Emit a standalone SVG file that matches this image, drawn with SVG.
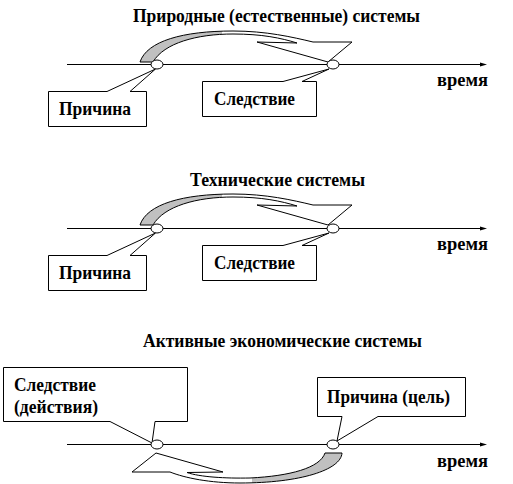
<svg xmlns="http://www.w3.org/2000/svg" xmlns:xlink="http://www.w3.org/1999/xlink" width="513" height="484" viewBox="0 0 513 484" xml:lang="ru" lang="ru">
<style>
.title{font-size:18px}
.lbl{font-size:19px}
.box{fill:#fff;stroke:#000;stroke-width:1}
.ax{fill:none;stroke:#000;stroke-width:1}
.dot{fill:#fff;stroke:#000;stroke-width:1}
.arW{fill:#fff;stroke:none}
.arG{fill:#c0c0c0;stroke:none}
.arS{fill:none;stroke:#000;stroke-width:1;stroke-linejoin:miter}
</style>
<defs>
<clipPath id="cl1"><rect x="0" y="0" width="222" height="484"/></clipPath>
<clipPath id="cl3"><rect x="252" y="0" width="261" height="484"/></clipPath>
<path id="arc1" d="M140,62 C147,41 183,31 233,31 C266,31 292,37 313,42 L352,42 L328,62 L257,42 L297,43 C281,38 262,34 233,34 C197,34 164,43 153,62 Z"/>
<path id="arc3" d="M342,453 C341,470 300,483 240,483 C210,483 185,478 170,472 L132,472 L156,453 L223,472 L187,472.5 C200,477 225,478.5 250,478 C290,476 320,468 325,453 Z"/>
<g id="curve1">
<use xlink:href="#arc1" class="arW"/>
<use xlink:href="#arc1" class="arG" clip-path="url(#cl1)"/>
<use xlink:href="#arc1" class="arS"/>
</g>
<path id="axisHead" d="M480,62.5 L487,64.5 L480,66.5 Z" fill="#000"/>
</defs>

<g id="titles">
<text class="title" font-family="Liberation Serif, Times New Roman, DejaVu Serif, serif" font-weight="bold" x="133" y="22" textLength="287" lengthAdjust="spacingAndGlyphs">Природные (естественные) системы</text>
<text class="title" font-family="Liberation Serif, Times New Roman, DejaVu Serif, serif" font-weight="bold" x="190" y="186" textLength="175" lengthAdjust="spacingAndGlyphs">Технические системы</text>
<text class="title" font-family="Liberation Serif, Times New Roman, DejaVu Serif, serif" font-weight="bold" x="143" y="347" textLength="279" lengthAdjust="spacingAndGlyphs">Активные экономические системы</text>
</g>

<g id="connectors">
<line class="ax" x1="67" y1="64.5" x2="483" y2="64.5"/>
<use xlink:href="#axisHead"/>
<line class="ax" x1="67" y1="228.5" x2="483" y2="228.5"/>
<use xlink:href="#axisHead" transform="translate(0,164)"/>
<line class="ax" x1="67" y1="444.5" x2="483" y2="444.5"/>
<use xlink:href="#axisHead" transform="translate(0,380)"/>
<use xlink:href="#curve1"/>
<use xlink:href="#curve1" transform="translate(0,163)"/>
<g id="curve3">
<use xlink:href="#arc3" class="arW"/>
<use xlink:href="#arc3" class="arG" clip-path="url(#cl3)"/>
<use xlink:href="#arc3" class="arS"/>
</g>
</g>

<g id="time-labels">
<text class="title" font-family="Liberation Serif, Times New Roman, DejaVu Serif, serif" font-weight="bold" x="437" y="86" textLength="51" lengthAdjust="spacingAndGlyphs">время</text>
<text class="title" font-family="Liberation Serif, Times New Roman, DejaVu Serif, serif" font-weight="bold" x="437" y="250" textLength="51" lengthAdjust="spacingAndGlyphs">время</text>
<text class="title" font-family="Liberation Serif, Times New Roman, DejaVu Serif, serif" font-weight="bold" x="437" y="467" textLength="51" lengthAdjust="spacingAndGlyphs">время</text>
</g>

<g id="p1-cause">
<path class="box" d="M48.5,91.5 L107,91.5 L155.5,69 L130,91.5 L146.5,91.5 L146.5,126.5 L48.5,126.5 Z"/>
<text class="lbl" font-family="Liberation Serif, Times New Roman, DejaVu Serif, serif" font-weight="bold" x="59" y="115" textLength="72" lengthAdjust="spacingAndGlyphs">Причина</text>
</g>
<g id="p1-effect">
<path class="box" d="M202.5,81.5 L283,81.5 L329,69 L302,81.5 L316.5,81.5 L316.5,116.5 L202.5,116.5 Z"/>
<text class="lbl" font-family="Liberation Serif, Times New Roman, DejaVu Serif, serif" font-weight="bold" x="214" y="104.5" textLength="81" lengthAdjust="spacingAndGlyphs">Следствие</text>
</g>
<g id="p2-cause" transform="translate(0,164)">
<path class="box" d="M48.5,91.5 L107,91.5 L155.5,69 L130,91.5 L146.5,91.5 L146.5,126.5 L48.5,126.5 Z"/>
<text class="lbl" font-family="Liberation Serif, Times New Roman, DejaVu Serif, serif" font-weight="bold" x="59" y="115" textLength="72" lengthAdjust="spacingAndGlyphs">Причина</text>
</g>
<g id="p2-effect" transform="translate(0,164)">
<path class="box" d="M202.5,81.5 L283,81.5 L329,69 L302,81.5 L316.5,81.5 L316.5,116.5 L202.5,116.5 Z"/>
<text class="lbl" font-family="Liberation Serif, Times New Roman, DejaVu Serif, serif" font-weight="bold" x="214" y="104.5" textLength="81" lengthAdjust="spacingAndGlyphs">Следствие</text>
</g>
<g id="p3-effect">
<path class="box" d="M3.5,367.5 L187.5,367.5 L187.5,421.5 L155,421.5 L152,443 L110,421.5 L3.5,421.5 Z"/>
<text class="lbl" font-family="Liberation Serif, Times New Roman, DejaVu Serif, serif" font-weight="bold" x="14" y="391" textLength="82" lengthAdjust="spacingAndGlyphs">Следствие</text>
<text class="lbl" font-family="Liberation Serif, Times New Roman, DejaVu Serif, serif" font-weight="bold" x="14" y="413" textLength="84" lengthAdjust="spacingAndGlyphs">(действия)</text>
</g>
<g id="p3-cause">
<path class="box" d="M317.5,377.5 L465.5,377.5 L465.5,416.5 L378,416.5 L337,441 L342,416.5 L317.5,416.5 Z"/>
<text class="lbl" font-family="Liberation Serif, Times New Roman, DejaVu Serif, serif" font-weight="bold" x="327" y="403" textLength="123" lengthAdjust="spacingAndGlyphs">Причина (цель)</text>
</g>

<g id="events">
<ellipse class="dot" cx="157" cy="64.5" rx="6" ry="4.5"/>
<ellipse class="dot" cx="333" cy="64.5" rx="6" ry="4.5"/>
<ellipse class="dot" cx="157" cy="228.5" rx="6" ry="4.5"/>
<ellipse class="dot" cx="333" cy="228.5" rx="6" ry="4.5"/>
<ellipse class="dot" cx="157" cy="444.5" rx="6" ry="4.5"/>
<ellipse class="dot" cx="333" cy="444.5" rx="6" ry="4.5"/>
</g>
</svg>
